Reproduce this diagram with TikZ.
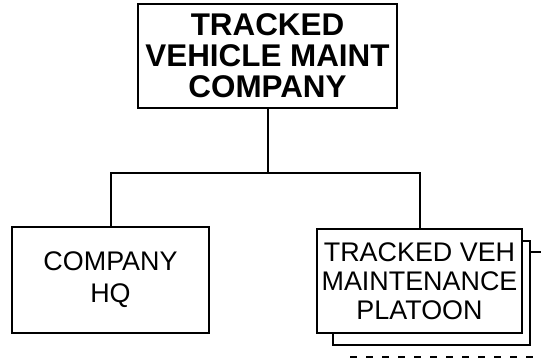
\documentclass[tikz,border=0pt]{standalone}
\usepackage{fontspec}
\setmainfont{Liberation Sans}
\usetikzlibrary{calc, positioning}

\begin{document}
\begin{tikzpicture}[x=1bp, y=-1bp, line width=2bp,
  unit/.style={draw, fill=white, align=center, inner sep=0pt,
    font=\fontsize{27}{29}\selectfont},
  topunit/.style={unit, font=\fontsize{31.5}{31}\selectfont\bfseries}]
\useasboundingbox (0,0) rectangle (541,360);

\node[topunit, minimum width=259bp, minimum height=104bp] (tvmc) at (267.5,56)
  {TRACKED\\VEHICLE MAINT\\COMPANY};
\node[unit, minimum width=197bp, minimum height=106bp,
  font=\fontsize{27}{32}\selectfont] (hq) at (110.5,280) {COMPANY\\HQ};
\node[unit, minimum width=197bp, minimum height=104bp] (pltback) at (431.5,293) {};
\node[unit, minimum width=205bp, minimum height=104bp] (plt) at (419.5,281)
  {TRACKED VEH\\MAINTENANCE\\PLATOON};

\coordinate (bus) at (tvmc.south |- 0,173);
\draw (tvmc.south) -- (bus);
\draw (hq.north) |- (bus) -| (plt.north);

% cut-off lines at the edges
\coordinate (offR) at (541,252);
\draw (pltback.east |- offR) -- (offR);
\coordinate (dashL) at (350,357);
\coordinate (dashR) at (541,357);
\draw[dash pattern=on 7bp off 9bp, line width=1.6bp] (dashL) -- (dashR);
\end{tikzpicture}
\end{document}
